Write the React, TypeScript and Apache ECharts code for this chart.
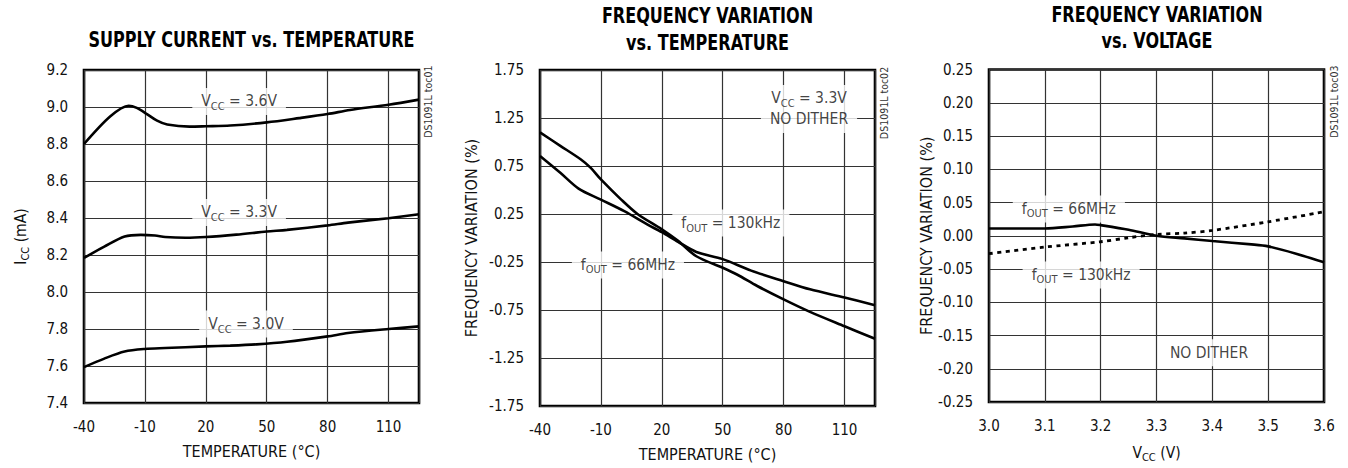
import React, { useEffect, useRef } from "react";
import * as echarts from "echarts";

const FONT = "'Liberation Sans Narrow', 'DejaVu Sans Condensed', 'Arial Narrow', sans-serif";

// ---- Chart 1: Supply current vs temperature ----
const temp36 = [-40, -27, -18, -14, -9, -4, 1, 12, 20, 32, 50, 66, 80, 91, 110, 125];
const icc36 = [8.8, 8.95, 9.007, 8.995, 8.962, 8.926, 8.905, 8.894, 8.896, 8.9, 8.917, 8.94, 8.962, 8.984, 9.012, 9.04];
const temp33 = [-40, -30, -20, -12, -5, 0, 10, 20, 35, 50, 60, 80, 90, 110, 125];
const icc33 = [8.184, 8.245, 8.3, 8.309, 8.305, 8.297, 8.293, 8.297, 8.31, 8.327, 8.336, 8.36, 8.375, 8.399, 8.42];
const temp30 = [-40, -30, -20, -10, 0, 20, 32, 45, 60, 80, 90, 110, 125];
const icc30 = [7.594, 7.64, 7.678, 7.692, 7.697, 7.706, 7.71, 7.717, 7.731, 7.76, 7.778, 7.8, 7.814];

// ---- Chart 2: Frequency variation vs temperature ----
const tempA = [-40, -30, -20, -15, -10, 0, 8, 20, 28, 37, 50, 57, 67, 80, 93, 110, 125];
const freqA = [1.1, 0.96, 0.82, 0.73, 0.61, 0.4, 0.25, 0.09, -0.03, -0.19, -0.31, -0.38, -0.5, -0.64, -0.77, -0.92, -1.05];
const tempB = [-40, -30, -21, -10, 1.5, 13, 20, 28, 37, 50, 64, 80, 93, 110, 125];
const freqB = [0.855, 0.68, 0.515, 0.4, 0.28, 0.14, 0.06, -0.04, -0.145, -0.22, -0.34, -0.45, -0.535, -0.62, -0.7];

// ---- Chart 3: Frequency variation vs voltage ----
const volt66 = [3.0, 3.1, 3.15, 3.19, 3.2, 3.25, 3.3, 3.35, 3.4, 3.47, 3.5, 3.55, 3.6];
const freq66 = [0.011, 0.011, 0.014, 0.017, 0.016, 0.009, 0.0, -0.004, -0.008, -0.013, -0.016, -0.027, -0.04];
const volt130 = [3.0, 3.1, 3.2, 3.25, 3.3, 3.35, 3.4, 3.5, 3.6];
const freq130 = [-0.027, -0.017, -0.009, -0.003, 0.002, 0.004, 0.008, 0.021, 0.036];

// ---- Tick settings ----
const tempTicks = { min: -40, max: 125, interval: 30 };
const iccTicks = { min: 7.4, max: 9.2, interval: 0.2 };
const freqTempTicks = { min: -1.75, max: 1.75, interval: 0.5 };
const voltTicks = { min: 3.0, max: 3.6, interval: 0.1 };
const freqVoltTicks = { min: -0.25, max: 0.25, interval: 0.05 };

// ---- Annotation texts ----
const labelsChart1 = [
  { x: 36.4, y: 9.03, text: "{n|V}{s|CC}{n| = 3.6V}" },
  { x: 36.4, y: 8.43, text: "{n|V}{s|CC}{n| = 3.3V}" },
  { x: 39.8, y: 7.827, text: "{n|V}{s|CC}{n| = 3.0V}" },
];
const labelsChart2 = [
  { x: 92.5, y: 1.344, text: "{n|V}{s|CC}{n| = 3.3V}\n{n|NO DITHER}" },
  { x: 54, y: 0.156, text: "{n|f}{s|OUT}{n| = 130kHz}" },
  { x: 3.3, y: -0.281, text: "{n|f}{s|OUT}{n| = 66MHz}" },
];
const labelsChart3 = [
  { x: 3.143, y: 0.0403, text: "{n|f}{s|OUT}{n| = 66MHz}" },
  { x: 3.165, y: -0.059, text: "{n|f}{s|OUT}{n| = 130kHz}" },
  { x: 3.394, y: -0.176, text: "{n|NO DITHER}" },
];

const TXT = "#111";

const rich = {
  n: { fontSize: 15.5, lineHeight: 21, fontFamily: FONT, color: TXT },
  s: { fontSize: 11, lineHeight: 13, verticalAlign: "bottom", fontFamily: FONT, color: TXT },
};

const pairs = (xs: number[], ys: number[]) => xs.map((x, i) => [x, ys[i]]);

function lineSeries(idx: number, xs: number[], ys: number[], dotted = false) {
  return {
    type: "line",
    xAxisIndex: idx,
    yAxisIndex: idx,
    data: pairs(xs, ys),
    symbol: "none",
    smooth: 0.3,
    silent: true,
    lineStyle: { color: "#000", width: dotted ? 2.8 : 2.6, type: dotted ? [4, 4.5] : "solid" },
    z: 3,
  };
}

function labelSeries(idx: number, l: { x: number; y: number; text: string }) {
  return {
    type: "scatter",
    xAxisIndex: idx,
    yAxisIndex: idx,
    data: [[l.x, l.y]],
    symbolSize: 1,
    silent: true,
    itemStyle: { color: "rgba(0,0,0,0)" },
    emphasis: { disabled: true },
    z: 2,
    label: {
      show: true,
      position: "inside",
      formatter: l.text,
      backgroundColor: "#fff",
      padding: [3, 9, 3, 9],
      lineHeight: 21,
      fontSize: 15.5,
      fontFamily: FONT,
      color: TXT,
      rich,
    },
  };
}

const axisLabelBase = { fontSize: 15, color: TXT, fontFamily: FONT };
const nameBase = { fontSize: 16, color: TXT, fontFamily: FONT };
const splitLine = { show: true, lineStyle: { color: "#333", width: 1.2 } };

function xAxis(idx: number, ticks: any, name: string, fmt: (v: number) => string, gap: number) {
  return {
    type: "value",
    gridIndex: idx,
    ...ticks,
    axisLine: { show: false },
    axisTick: { show: false },
    splitLine,
    axisLabel: { ...axisLabelBase, margin: 16, formatter: fmt },
    name,
    nameLocation: "middle",
    nameGap: gap,
    nameTextStyle: { ...nameBase, rich },
  };
}

function yAxis(idx: number, ticks: any, name: string, fmt: (v: number) => string, gap: number) {
  return {
    type: "value",
    gridIndex: idx,
    ...ticks,
    axisLine: { show: false },
    axisTick: { show: false },
    splitLine,
    axisLabel: { ...axisLabelBase, margin: 16, formatter: fmt },
    name,
    nameLocation: "middle",
    nameGap: gap,
    nameTextStyle: { ...nameBase, rich },
  };
}

const tempFmt = (v: number) => (v > 111 ? "" : String(Math.round(v)));

function titleText(x: number, y: number, text: string) {
  return {
    type: "text",
    x,
    y,
    scaleX: 0.85,
    silent: true,
    style: {
      text,
      fontSize: 21,
      fontWeight: "bold",
      fontFamily: FONT,
      fill: "#000",
      align: "center",
      verticalAlign: "middle",
    },
  };
}

function noteText(x: number, y: number, text: string) {
  return {
    type: "text",
    x,
    y,
    rotation: Math.PI / 2,
    silent: true,
    style: {
      text,
      fontSize: 10.5,
      fontFamily: FONT,
      fill: "#333",
      align: "center",
      verticalAlign: "middle",
    },
  };
}

export default function App() {
  const ref = useRef<HTMLDivElement>(null);
  useEffect(() => {
    if (!ref.current) return;
    const chart = echarts.init(ref.current, undefined, { renderer: "svg" });
    const gridBase = { show: true, borderColor: "#000", borderWidth: 2.6, backgroundColor: "transparent" };
    chart.setOption({
      animation: false,
      textStyle: { fontFamily: FONT },
      grid: [
        { ...gridBase, left: 84, top: 70, width: 335, height: 333 },
        { ...gridBase, left: 540, top: 70, width: 335, height: 336 },
        { ...gridBase, left: 989, top: 69.5, width: 335, height: 335 },
      ],
      xAxis: [
        xAxis(0, tempTicks, "TEMPERATURE (°C)", tempFmt, 40),
        xAxis(1, tempTicks, "TEMPERATURE (°C)", tempFmt, 40),
        xAxis(2, voltTicks, "{n|V}{s|CC}{n| (V)}", (v) => v.toFixed(1), 40),
      ],
      yAxis: [
        yAxis(0, iccTicks, "{n|I}{s|CC}{n| (mA)}", (v) => v.toFixed(1), 53),
        yAxis(1, freqTempTicks, "FREQUENCY VARIATION (%)", (v) => v.toFixed(2), 61),
        yAxis(2, freqVoltTicks, "FREQUENCY VARIATION (%)", (v) => v.toFixed(2), 55),
      ],
      series: [
        lineSeries(0, temp36, icc36),
        lineSeries(0, temp33, icc33),
        lineSeries(0, temp30, icc30),
        lineSeries(1, tempA, freqA),
        lineSeries(1, tempB, freqB),
        lineSeries(2, volt66, freq66),
        lineSeries(2, volt130, freq130, true),
        ...labelsChart1.map((l) => labelSeries(0, l)),
        ...labelsChart2.map((l) => labelSeries(1, l)),
        ...labelsChart3.map((l) => labelSeries(2, l)),
      ],
      graphic: [
        titleText(251.5, 39.6, "SUPPLY CURRENT vs. TEMPERATURE"),
        titleText(707.5, 16, "FREQUENCY VARIATION"),
        titleText(707.5, 42.5, "vs. TEMPERATURE"),
        titleText(1157, 15.3, "FREQUENCY VARIATION"),
        titleText(1157, 40.5, "vs. VOLTAGE"),
        noteText(428.3, 101.7, "DS1091L toc01"),
        noteText(884, 103, "DS1091L toc02"),
        noteText(1334, 101.7, "DS1091L toc03"),
      ],
    });
    return () => chart.dispose();
  }, []);
  return (
    <div
      ref={ref}
      style={{ position: "fixed", left: 0, top: 0, width: 1348, height: 468, background: "#fff" }}
    />
  );
}
